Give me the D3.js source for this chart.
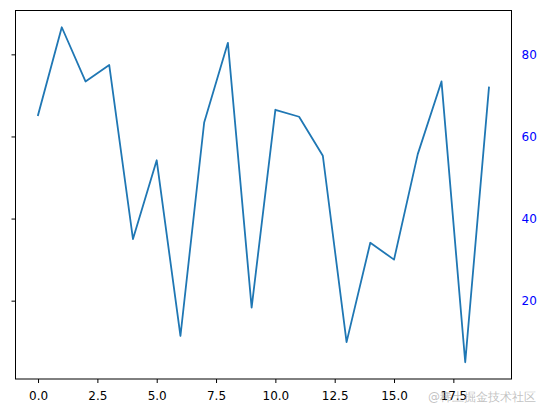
<!DOCTYPE html>
<html>
<head>
<meta charset="utf-8">
<script src="https://cdn.jsdelivr.net/npm/d3@7/dist/d3.min.js"></script>
<style>
  html, body { margin: 0; padding: 0; background: #fff; }
  svg { display: block; }
  text { font-family: "DejaVu Sans", sans-serif; }
</style>
</head>
<body>
<svg id="chart" width="548" height="413"></svg>
<script>
const xValues = [0,1,2,3,4,5,6,7,8,9,10,11,12,13,14,15,16,17,18,19];
const yValues = [65.2,86.6,73.4,77.4,35.0,54.2,11.4,63.4,82.8,18.3,66.5,64.8,55.3,9.9,34.1,30.0,55.7,73.4,5.0,71.9];
const xTicks = [0, 2.5, 5, 7.5, 10, 12.5, 15, 17.5];
const yTicks = [20, 40, 60, 80];
const watermark = "@稀土掘金技术社区";

const svg = d3.select("#chart");
const mLeft = 15.5, mRight = 511.5, mTop = 10.5, mBottom = 379;

const xExt = d3.extent(xValues), yExt = d3.extent(yValues);
const xm = (xExt[1] - xExt[0]) * 0.05, ym = (yExt[1] - yExt[0]) * 0.05;
const x = d3.scaleLinear().domain([xExt[0] - xm, xExt[1] + xm]).range([mLeft, mRight]);
const y = d3.scaleLinear().domain([yExt[0] - ym, yExt[1] + ym]).range([mBottom, mTop]);

// line
svg.append("path")
  .datum(xValues.map((v, i) => [v, yValues[i]]))
  .attr("fill", "none")
  .attr("stroke", "#1f77b4")
  .attr("stroke-width", 1.8)
  .attr("stroke-linejoin", "round")
  .attr("stroke-linecap", "square")
  .attr("d", d3.line().x(d => x(d[0])).y(d => y(d[1])));

// bottom axis
const gx = svg.append("g").attr("transform", `translate(0,${mBottom})`)
  .call(d3.axisBottom(x).tickValues(xTicks).tickSize(4).tickPadding(8)
    .tickFormat(d3.format(".1f")));
gx.select(".domain").remove();
gx.selectAll("line").attr("stroke", "#000").attr("stroke-width", 1);
gx.selectAll("text").attr("font-size", 12).attr("fill", "#000")
  .attr("font-family", "DejaVu Sans, sans-serif");

// left axis (ticks only)
const gl = svg.append("g").attr("transform", `translate(${mLeft},0)`)
  .call(d3.axisLeft(y).tickValues(yTicks).tickSize(4).tickFormat(""));
gl.select(".domain").remove();
gl.selectAll("line").attr("stroke", "#000").attr("stroke-width", 1);

// right axis (labels only, blue)
const gr = svg.append("g").attr("transform", `translate(${mRight},0)`)
  .call(d3.axisRight(y).tickValues(yTicks).tickSize(0).tickPadding(10));
gr.select(".domain").remove();
gr.selectAll("text").attr("font-size", 12).attr("fill", "#0000ff")
  .attr("font-family", "DejaVu Sans, sans-serif");

// frame
svg.append("rect")
  .attr("x", mLeft).attr("y", mTop)
  .attr("width", mRight - mLeft).attr("height", mBottom - mTop)
  .attr("fill", "none").attr("stroke", "#000").attr("stroke-width", 1);

// watermark
svg.append("text")
  .attr("x", 536).attr("y", 401)
  .attr("text-anchor", "end")
  .attr("font-size", 12)
  .attr("font-family", "Noto Sans CJK SC, sans-serif")
  .attr("fill", "#999")
  .attr("fill-opacity", 0.6)
  .text(watermark);
</script>
</body>
</html>
